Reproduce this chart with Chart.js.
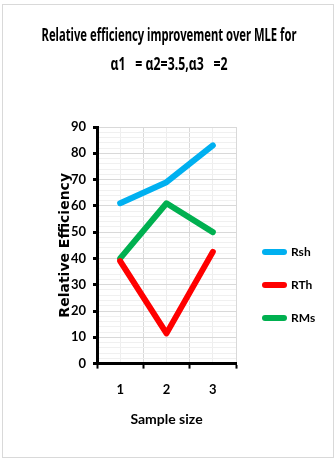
<!DOCTYPE html>
<html>
<head>
<meta charset="utf-8">
<script src="https://cdn.jsdelivr.net/npm/chart.js@4.4.1/dist/chart.umd.min.js"></script>
<style>
  body { margin: 0; background: #fff; }
  #frame { position: absolute; left: 2px; top: 4px; width: 330px; height: 452px; border: 1px solid #d9d9d9; }
  #wrap { position: absolute; left: 0; top: 0; width: 335px; height: 459px; }
</style>
</head>
<body>
<div id="frame"></div>
<div id="wrap"><canvas id="line-plot"></canvas></div>
<script>
var sampleSizes = [1, 2, 3];
var rsh = [61, 69, 83];
var rth = [39, 11.5, 42.5];
var rms = [40, 61, 50];
var titleLines = ["Relative efficiency improvement over MLE for", "\u03b11   = \u03b12=3.5,\u03b13   =2"];

var labelFont = "Lato, 'DejaVu Sans', sans-serif";

function points(values) {
  return sampleSizes.map(function (s, i) { return { x: s, y: values[i] }; });
}

function series(label, values, color) {
  return {
    label: label,
    data: points(values),
    borderColor: color,
    backgroundColor: color,
    borderWidth: 6,
    borderCapStyle: "round",
    borderJoinStyle: "round",
    pointRadius: 0,
    tension: 0
  };
}

// two-line title, squeezed to the narrow width of the original font
var narrowTitle = {
  id: "narrowTitle",
  afterDraw: function (chart) {
    var ctx = chart.ctx;
    var widths = [255, 117];
    ctx.save();
    ctx.fillStyle = "#000";
    ctx.font = "bold 17px 'Noto Sans', sans-serif";
    ctx.textAlign = "center";
    ctx.textBaseline = "middle";
    titleLines.forEach(function (line, i) {
      ctx.fillText(line, 169, 36 + i * 29, widths[i]);
    });
    ctx.restore();
  }
};

// legend drawn by hand: short thick lines with the label beside them
var sideLegend = {
  id: "sideLegend",
  afterDraw: function (chart) {
    var ctx = chart.ctx;
    var area = chart.chartArea;
    var x = area.right + 29;
    chart.data.datasets.forEach(function (ds, i) {
      var y = area.top + 125 + i * 33;
      ctx.save();
      ctx.strokeStyle = ds.borderColor;
      ctx.lineWidth = 6;
      ctx.lineCap = "round";
      ctx.beginPath();
      ctx.moveTo(x, y);
      ctx.lineTo(x + 19, y);
      ctx.stroke();
      ctx.fillStyle = "#000";
      ctx.font = "bold 12px " + labelFont;
      ctx.textBaseline = "middle";
      ctx.fillText(ds.label, x + 26, y);
      ctx.restore();
    });
  }
};

new Chart("line-plot", {
  type: "line",
  data: {
    datasets: [
      series("Rsh", rsh, "#00b0f0"),
      series("RTh", rth, "#ff0000"),
      series("RMs", rms, "#00b050")
    ]
  },
  plugins: [narrowTitle, sideLegend],
  options: {
    responsive: true,
    maintainAspectRatio: false,
    animation: false,
    layout: { padding: { top: 127, left: 42, right: 99, bottom: 31 } },
    plugins: {
      title: { display: false },
      legend: { display: false },
      tooltip: { enabled: false }
    },
    scales: {
      x: {
        type: "linear",
        min: 0.5,
        max: 3.5,
        border: { display: true, color: "#000", width: 3 },
        grid: {
          color: function (ctx) { return Number.isInteger(ctx.tick.value) ? "#eeeeee" : "#d9d9d9"; },
          tickColor: function (ctx) { return Number.isInteger(ctx.tick.value) ? "rgba(0,0,0,0)" : "#000"; },
          tickLength: 5,
          tickWidth: 2
        },
        ticks: {
          stepSize: 0.5,
          autoSkip: false,
          maxRotation: 0,
          padding: 13,
          color: "#000",
          font: { family: labelFont, size: 13, weight: "bold" },
          callback: function (v) { return Number.isInteger(v) ? v : ""; }
        },
        title: {
          display: true,
          text: "Sample size",
          color: "#000",
          font: { family: labelFont, size: 14, weight: "bold" },
          padding: { top: 1, bottom: 0 }
        }
      },
      y: {
        min: 0,
        max: 90,
        afterFit: function (scale) { scale.width = 55; },
        border: { display: true, color: "#000", width: 3 },
        grid: {
          color: function (ctx) { return ctx.tick.value % 10 === 0 ? "#d9d9d9" : "#f0f0f0"; },
          tickColor: function (ctx) { return ctx.tick.value % 10 === 0 ? "#000" : "rgba(0,0,0,0)"; },
          tickLength: 4,
          tickWidth: 3
        },
        ticks: {
          stepSize: 2,
          autoSkip: false,
          padding: 7,
          color: "#000",
          font: { family: labelFont, size: 13, weight: "bold" },
          callback: function (v) { return v % 10 === 0 ? v : ""; }
        },
        title: {
          display: true,
          text: "Relative Efficiency",
          color: "#000",
          font: { family: "'DejaVu Sans', sans-serif", size: 14, weight: "bold" },
          padding: { top: 15, bottom: 0 }
        }
      }
    }
  }
});
</script>
</body>
</html>
